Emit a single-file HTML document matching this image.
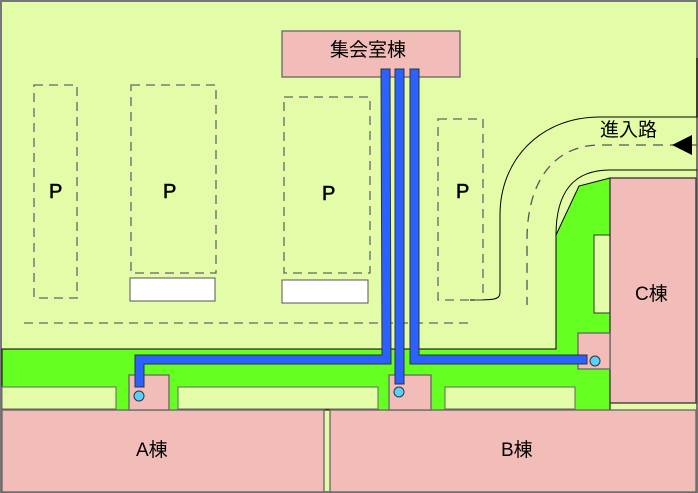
<!DOCTYPE html>
<html><head><meta charset="utf-8"><style>
body{margin:0;background:#fff}
svg{display:block}
text{font-family:"Liberation Sans","Noto Sans CJK JP",sans-serif;fill:#000}
</style></head><body>
<svg width="698" height="493" viewBox="0 0 698 493">
<rect x="1" y="1" width="696" height="491" fill="#e2fca8" stroke="#777" stroke-width="2"/>
<path d="M2 349 H556 V235 L579 186 L610 178 V410 H2 Z" fill="#66ff22" stroke="#000" stroke-width="1"/>
<path d="M697 58 V117 H600 C540 117 500 160 500 215 V292 C500 300 494 300 470 300" fill="none" stroke="#000" stroke-width="1"/>
<path d="M697 170 H610 C575 170 556 190 556 235" fill="none" stroke="#000" stroke-width="1"/>
<path d="M697 145 H600 C555 145 527 180 527 240 V305" fill="none" stroke="#555" stroke-width="1.3" stroke-dasharray="10,7"/>
<polygon points="672,145 692,135 692,155" fill="#000"/>
<text x="600" y="136" font-size="19">進入路</text>
<rect x="2" y="387" width="114" height="22" fill="#e2fca8" stroke="#666" stroke-width="1"/>
<rect x="178" y="387" width="200" height="22" fill="#e2fca8" stroke="#666" stroke-width="1"/>
<rect x="445" y="387" width="130" height="22" fill="#e2fca8" stroke="#666" stroke-width="1"/>
<rect x="594" y="235" width="16" height="78" fill="#e2fca8" stroke="#333" stroke-width="1"/>
<g fill="none" stroke="#666" stroke-width="1.3" stroke-dasharray="9,6">
<rect x="34" y="85" width="43" height="213"/>
<rect x="131" y="85" width="85" height="188"/>
<rect x="284" y="97" width="86" height="176"/>
<rect x="438" y="119" width="45" height="181"/>
<line x1="24" y1="323" x2="470" y2="323"/>
</g>
<g font-size="20" style="stroke:#000;stroke-width:0.6"><text x="49" y="198">P</text><text x="163" y="198">P</text><text x="322" y="200">P</text><text x="456" y="198">P</text></g>
<rect x="130" y="278" width="85" height="23" fill="#fff" stroke="#555"/>
<rect x="282" y="280" width="86" height="23" fill="#fff" stroke="#555"/>
<rect x="282" y="31" width="178" height="46" fill="#f2bcb8" stroke="#666" stroke-width="1.3"/>
<text x="330" y="56" font-size="19">集会室棟</text>
<rect x="2" y="410" width="322" height="82" fill="#f2bcb8" stroke="#666" stroke-width="1.3"/>
<rect x="330" y="410" width="366" height="82" fill="#f2bcb8" stroke="#666" stroke-width="1.3"/>
<rect x="610" y="178" width="86" height="225" fill="#f2bcb8" stroke="#333" stroke-width="1.3"/>
<text x="136" y="456" font-size="19">A棟</text>
<text x="501" y="456" font-size="19">B棟</text>
<text x="635" y="300" font-size="19">C棟</text>
<rect x="129" y="375" width="40" height="35" fill="#f2bcb8" stroke="#666" stroke-width="1.3"/>
<rect x="389" y="375" width="42" height="35" fill="#f2bcb8" stroke="#666" stroke-width="1.3"/>
<rect x="578" y="333" width="32" height="36" fill="#f2bcb8" stroke="#666" stroke-width="1.3"/>
<g fill="#2962ff" stroke="#333" stroke-width="1">
<path d="M381 69 H390 L391 364 H144 V387 H135 V355 H382 Z"/>
<rect x="395" y="69" width="9" height="315"/>
<path d="M410 69 H419 V355 H587 V364 H410 Z"/>
</g>
<g fill="#5ad0ff" stroke="#333" stroke-width="1">
<circle cx="139" cy="396" r="5"/><circle cx="399" cy="392" r="5"/><circle cx="595" cy="361" r="5"/>
</g>
</svg>
</body></html>
